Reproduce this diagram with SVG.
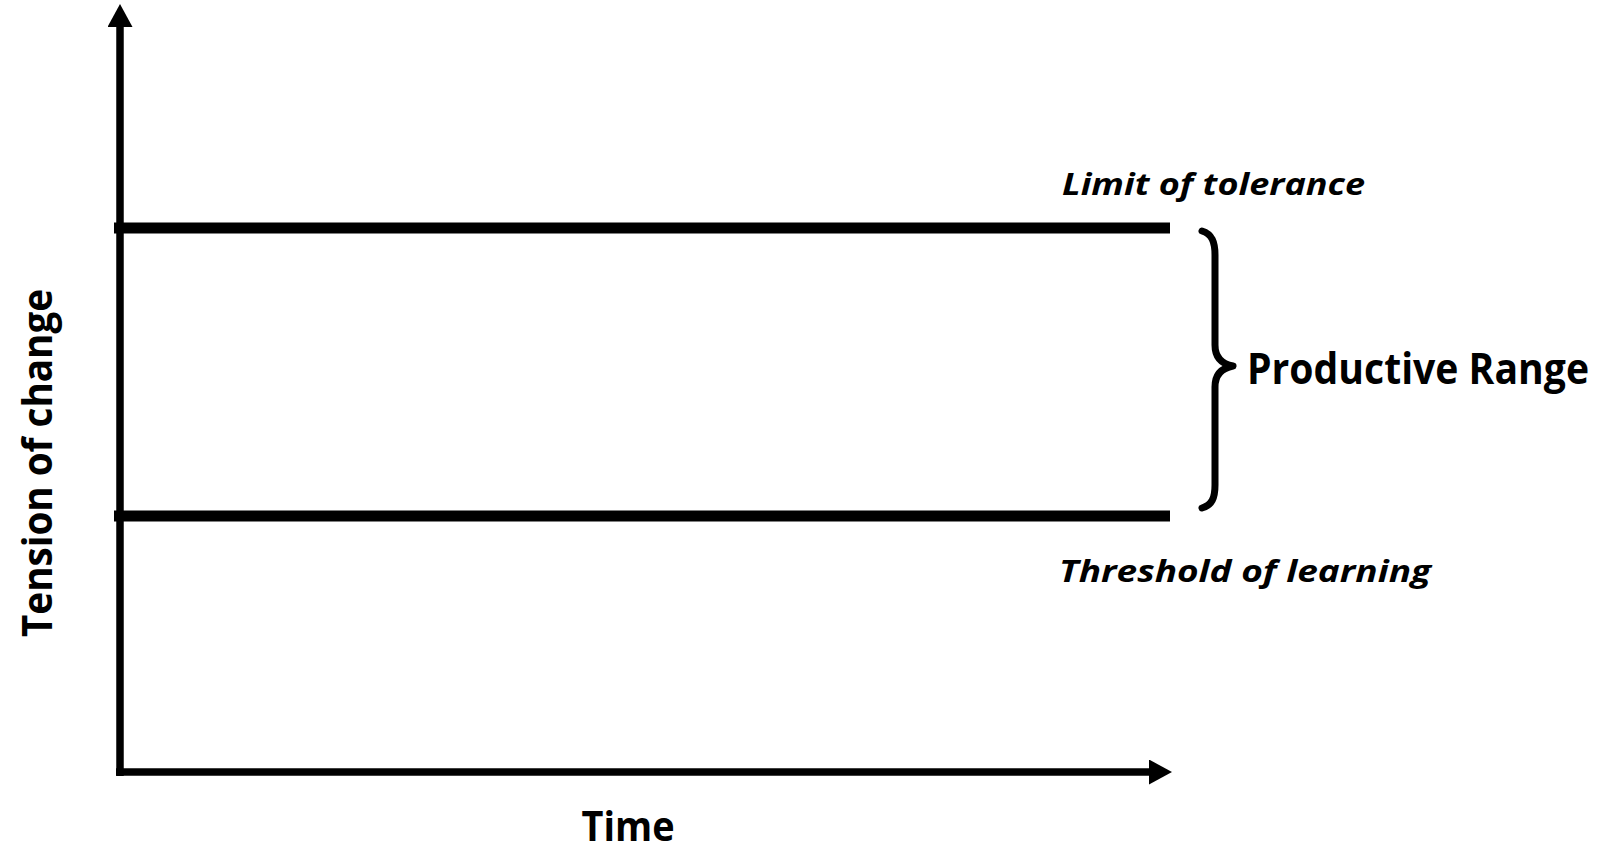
<svg xmlns="http://www.w3.org/2000/svg" width="1601" height="849" viewBox="0 0 1601 849">
<style>
  .axis { stroke:#000; stroke-width:7.5; fill:none; }
  .level { stroke:#000; stroke-width:11; fill:none; }
  .brace { stroke:#000; stroke-width:7; fill:none; stroke-linecap:round; stroke-linejoin:round; }
  .lbl { font-family:"Open Sans","Liberation Sans",sans-serif; font-weight:bold; fill:#000; }
  .it { font-style:italic; font-size:31px; }
</style>
<defs>
  <marker id="ah" markerUnits="userSpaceOnUse" viewBox="0 0 23 25" refX="0" refY="12.5" markerWidth="23" markerHeight="25" orient="auto">
    <path d="M0,0 L23,12.5 L0,25 z" fill="#000"/>
  </marker>
</defs>
<rect width="1601" height="849" fill="#fff"/>
<g id="connectors">
  <line class="axis" x1="120" y1="776" x2="120" y2="27" marker-end="url(#ah)"/>
  <line class="axis" x1="116" y1="772" x2="1149" y2="772" marker-end="url(#ah)"/>
</g>
<g id="limit-line">
  <line class="level" x1="114" y1="228" x2="1170" y2="228"/>
</g>
<g id="threshold-line">
  <line class="level" x1="114" y1="516" x2="1170" y2="516"/>
</g>
<g id="brace">
  <path class="brace" d="M1202,231 C1212,234 1215,242 1215,255 L1215,345 C1215,358 1222,364 1233,366 C1222,368 1215,374 1215,387 L1215,485 C1215,498 1212,505 1202,508"/>
</g>
<g id="label-limit">
  <text class="lbl it" x="1062" y="195" textLength="303" lengthAdjust="spacingAndGlyphs">Limit of tolerance</text>
</g>
<g id="label-threshold">
  <text class="lbl it" x="1059" y="582" textLength="372" lengthAdjust="spacingAndGlyphs">Threshold of learning</text>
</g>
<g id="label-range">
  <text class="lbl" x="1247" y="384" font-size="43.5" textLength="342" lengthAdjust="spacingAndGlyphs">Productive Range</text>
</g>
<g id="label-time">
  <text class="lbl" x="628" y="841" font-size="42" text-anchor="middle" textLength="93" lengthAdjust="spacingAndGlyphs">Time</text>
</g>
<g id="label-tension">
  <text class="lbl" transform="translate(52,463) rotate(-90)" x="0" y="0" font-size="42" text-anchor="middle" textLength="348" lengthAdjust="spacingAndGlyphs">Tension of change</text>
</g>
</svg>
